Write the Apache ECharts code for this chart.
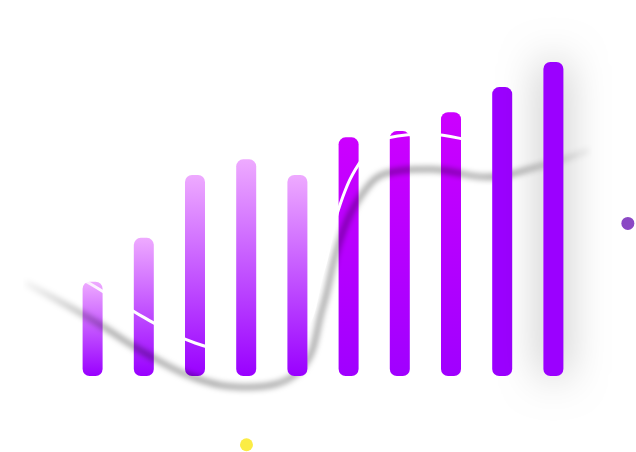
<!DOCTYPE html>
<html>
<head>
<meta charset="utf-8">
<style>
html, body { margin: 0; padding: 0; background: #fff; }
#main { width: 636px; height: 452px; }
</style>
<script src="https://cdn.jsdelivr.net/npm/echarts@6/dist/echarts.min.js"></script>
</head>
<body>
<div id="main"></div>
<script>
var myChart = echarts.init(document.getElementById('main'));

// bar values, one per category
var categories = ['1', '2', '3', '4', '5', '6', '7', '8', '9', '10'];
var barValues = [30, 44, 64, 69, 64, 76, 78, 84, 92, 100];
// colour group of each bar: a = light gradient, b = magenta gradient, c = solid
var barGroups = ['a', 'a', 'a', 'a', 'a', 'b', 'b', 'b', 'c', 'c'];
// bars drawn above the white curve (the rest sit under it)
var overLine = [3, 4, 8, 9];

// white curve, x in 0..100 across the overlay grid, y on the bar scale
var lineX = [0, 11.9, 21.2, 30.1, 38.9, 48.7, 52.7, 55.8, 59.8, 64.1, 71.7, 81.8, 90.6, 100];
var lineY = [40.8, 29, 18.5, 10.5, 7.6, 13, 33, 54.8, 69.4, 75.8, 77, 74.5, 77.7, 83];

// two loose dots
var dotX = [39.2, 106.7];
var dotY = [-21.9, 48.6];
var dotColors = ['#fbec45', '#8b48c4'];

var groupColor = {
    a: new echarts.graphic.LinearGradient(0, 0, 0, 1, [
        { offset: 0, color: '#eeaaff' },
        { offset: 1, color: '#9900ff' }
    ]),
    b: new echarts.graphic.LinearGradient(0, 0, 0, 1, [
        { offset: 0, color: '#cc00ff' },
        { offset: 1, color: '#a000ff' }
    ]),
    c: '#9b00ff'
};

var buildBars = function (over) {
    var res = [];
    for (var i = 0; i < barValues.length; i++) {
        var isOver = overLine.indexOf(i) >= 0;
        if (isOver !== over) {
            res.push('-');
            continue;
        }
        var item = {
            value: barValues[i],
            itemStyle: { color: groupColor[barGroups[i]] }
        };
        if (i === barValues.length - 1) {
            item.itemStyle.shadowColor = 'rgba(0,0,0,0.3)';
            item.itemStyle.shadowBlur = 40;
        }
        res.push(item);
    }
    return res;
};

var lineData = lineX.map(function (x, i) { return [x, lineY[i]]; });
var dotData = dotX.map(function (x, i) {
    return { value: [x, dotY[i]], itemStyle: { color: dotColors[i], opacity: 1 } };
});

option = {
    backgroundColor: '#fff',
    animation: false,
    grid: [
        { left: 67, right: 57, top: 62, bottom: 76 },
        { left: 25, right: 46, top: 62, bottom: 76 }
    ],
    xAxis: [
        { type: 'category', data: categories, gridIndex: 0, show: false },
        { type: 'value', gridIndex: 1, min: 0, max: 100, show: false }
    ],
    yAxis: [
        { type: 'value', gridIndex: 0, min: 0, max: 100, show: false },
        { type: 'value', gridIndex: 1, min: 0, max: 100, show: false }
    ],
    series: [
        {
            type: 'bar',
            z: 1,
            barWidth: 20,
            barGap: '-100%',
            itemStyle: { borderRadius: 7 },
            emphasis: { disabled: true },
            data: buildBars(false)
        },
        {
            type: 'line',
            z: 2,
            xAxisIndex: 1,
            yAxisIndex: 1,
            clip: false,
            smooth: 0.4,
            showSymbol: false,
            lineStyle: {
                // fades out at both ends, so the shadow does too
                color: new echarts.graphic.LinearGradient(0, 0, 1, 0, [
                    { offset: 0, color: 'rgba(255,255,255,0.1)' },
                    { offset: 0.15, color: 'rgba(255,255,255,1)' },
                    { offset: 0.85, color: 'rgba(255,255,255,1)' },
                    { offset: 1, color: 'rgba(255,255,255,0.1)' }
                ]),
                width: 3,
                shadowColor: 'rgba(0,0,0,0.65)',
                shadowBlur: 6,
                shadowOffsetY: 35
            },
            emphasis: { disabled: true },
            data: lineData
        },
        {
            type: 'bar',
            z: 3,
            barWidth: 20,
            barGap: '-100%',
            itemStyle: { borderRadius: 7 },
            emphasis: { disabled: true },
            data: buildBars(true)
        },
        {
            type: 'scatter',
            z: 4,
            xAxisIndex: 1,
            yAxisIndex: 1,
            clip: false,
            symbolSize: 13,
            emphasis: { disabled: true },
            data: dotData
        }
    ]
};

myChart.setOption(option);
</script>
</body>
</html>
